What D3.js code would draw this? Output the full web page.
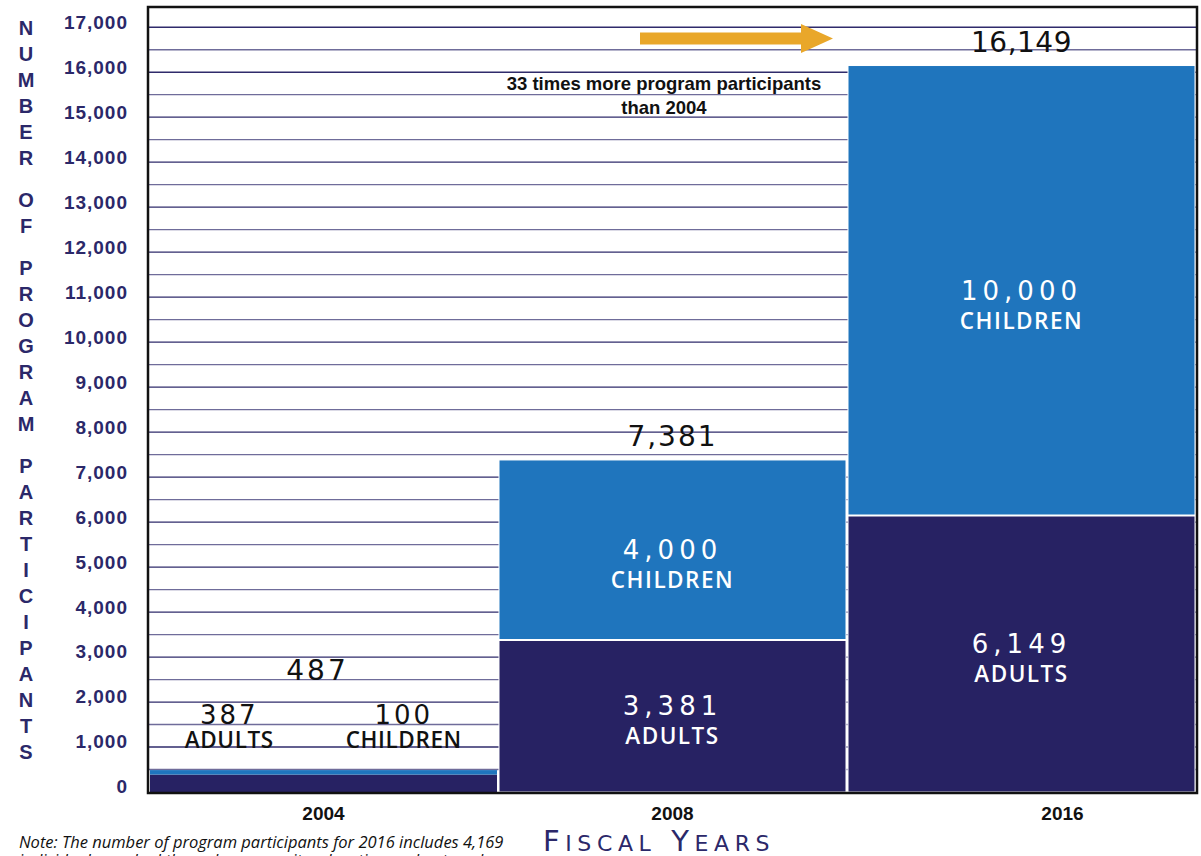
<!DOCTYPE html>
<html><head><meta charset="utf-8">
<script src="https://cdn.jsdelivr.net/npm/d3@7"></script>
<style>body{margin:0;background:#fff}svg{display:block}</style>
</head><body>
<svg id="c" width="1201" height="856"></svg>
<script>
const years = ["2004", "2008", "2016"];
const adults = [387, 3381, 6149];
const children = [100, 4000, 10000];
const totals = [487, 7381, 16149];
const yTickValues = d3.range(0, 17001, 1000);
const gridValues = d3.range(500, 17001, 500);
const yTitle = "NUMBER OF PROGRAM PARTICIPANTS";
const xTitleWords = ["Fiscal", "Years"];
const noteLines = ["Note: The number of program participants for 2016 includes 4,169",
                   "individuals reached through community education and outreach."];
const calloutLines = ["33 times more program participants", "than 2004"];

const NAVY = "#272263", BLUE = "#1f75bd", TXT = "#2b2869", ORANGE = "#e9a72a";
const NUMFONT = "'DejaVu Sans', sans-serif";
const WORDFONT = "'Open Sans', sans-serif";

const svg = d3.select("#c");
const L = 148, T = 7, R = 1197, B = 793;
const x = d3.scaleBand().domain(years).range([L + 1, R - 1]).paddingInner(0);
const y = d3.scaleLinear().domain([0, 17450]).range([792, T]);

const rows = years.map((yr, i) => ({year: yr, adults: adults[i], children: children[i], total: totals[i]}));

// gridlines
svg.append("g").selectAll("line").data(gridValues).join("line")
  .attr("x1", L).attr("x2", R).attr("y1", d => y(d)).attr("y2", d => y(d))
  .attr("stroke", (d) => d % 1000 === 0 ? "#2f2b6b" : "#6f6c9a").attr("stroke-width", 1.3);

// stacked bars
const stack = d3.stack().keys(["adults", "children"])(rows);
const colors = {adults: NAVY, children: BLUE};
svg.append("g").selectAll("g").data(stack).join("g")
  .attr("fill", d => colors[d.key])
  .selectAll("rect").data(d => d).join("rect")
  .attr("x", d => x(d.data.year) + 1).attr("width", x.bandwidth() - 2)
  .attr("y", d => y(d[1])).attr("height", d => y(d[0]) - y(d[1]));
// white separators between segments (only where the upper segment is tall)
svg.append("g").selectAll("line").data(rows.filter(r => y(r.adults) - y(r.total) > 20)).join("line")
  .attr("x1", d => x(d.year)).attr("x2", d => x(d.year) + x.bandwidth())
  .attr("y1", d => y(d.adults)).attr("y2", d => y(d.adults))
  .attr("stroke", "#fff").attr("stroke-width", 2);
// white outline around the tall bars
svg.append("g").selectAll("rect").data(rows.filter(r => r.year !== years[0])).join("rect")
  .attr("x", d => x(d.year) + 1).attr("width", x.bandwidth() - 2)
  .attr("y", d => y(d.total)).attr("height", d => y(0) - y(d.total))
  .attr("fill", "none").attr("stroke", "#fff").attr("stroke-width", 1);

// frame
svg.append("rect").attr("x", L).attr("y", T).attr("width", R - L).attr("height", B - T)
  .attr("fill", "none").attr("stroke", "#111").attr("stroke-width", 2.5);

// y axis labels
const yAxis = d3.axisLeft(y).tickValues(yTickValues).tickSize(0).tickPadding(20)
  .tickFormat(d3.format(","));
const ya = svg.append("g").attr("transform", `translate(${L},0)`).call(yAxis);
ya.select(".domain").remove();
ya.selectAll("text").attr("fill", TXT).attr("font-family", "'Liberation Sans', Arial, sans-serif")
  .attr("font-weight", "bold").attr("font-size", 19).attr("letter-spacing", 1).attr("dy", "0.05em");

// x axis labels
const xAxis = d3.axisBottom(x).tickSize(0).tickPadding(14);
const xa = svg.append("g").attr("transform", `translate(0,${B})`).call(xAxis);
xa.select(".domain").remove();
xa.selectAll("text").attr("fill", "#111").attr("font-family", "'Liberation Sans', Arial, sans-serif")
  .attr("font-weight", "bold").attr("font-size", 19)
  .attr("dx", (d, i) => i === years.length - 1 ? 41 : 0);

// vertical y title
let cy = 28;
const yt = svg.append("g").attr("fill", TXT).attr("font-family", "'Liberation Sans', Arial, sans-serif")
  .attr("font-weight", "bold").attr("font-size", 20).attr("text-anchor", "middle");
yTitle.split("").forEach(ch => {
  if (ch === " ") { cy += 16; return; }
  yt.append("text").attr("x", 26).attr("y", cy).attr("dy", "0.36em").text(ch);
  cy += 26;
});

// in-bar labels
const lab = svg.append("g").attr("text-anchor", "middle");
function pair(cx, cyNum, num, word, color, ls, gap, wordLs) {
  lab.append("text").attr("x", cx).attr("y", cyNum).attr("dy", "0.36em")
    .attr("font-family", NUMFONT).attr("font-size", 26).attr("letter-spacing", ls)
    .attr("fill", color).text(num);
  lab.append("text").attr("x", cx).attr("y", cyNum + gap).attr("dy", "0.36em")
    .attr("font-family", WORDFONT).attr("font-weight", 600).attr("font-size", 22.5)
    .attr("letter-spacing", wordLs)
    .attr("fill", color).text(word);
}
const fmt = d3.format(",");
rows.forEach((r, i) => {
  const cx = x(r.year) + x.bandwidth() / 2;
  if (i === 0) {
    lab.append("text").attr("x", cx - 6).attr("y", y(2720)).attr("dy", "0.36em")
      .attr("font-family", NUMFONT).attr("font-size", 28).attr("letter-spacing", 3)
      .attr("fill", "#111").text(fmt(r.total));
    pair(x(r.year) + x.bandwidth() * 0.23, y(1720), fmt(r.adults), "ADULTS", "#111", 3, 25, 0.6);
    pair(x(r.year) + x.bandwidth() * 0.73, y(1720), fmt(r.children), "CHILDREN", "#111", 3, 25, 0.6);
  } else {
    lab.append("text").attr("x", cx).attr("y", y(r.total) - 24).attr("dy", "0.36em")
      .attr("font-family", NUMFONT).attr("font-size", 28).attr("letter-spacing", i === 1 ? 2 : 0.5)
      .attr("fill", "#111").text(fmt(r.total));
    pair(cx, y((r.adults + r.total) / 2), fmt(r.children), "CHILDREN", "#fff", 5, 30, 1.5);
    pair(cx, y(r.adults / 2) - 10, fmt(r.adults), "ADULTS", "#fff", 5, 30, 1.5);
  }
});

// callout
const co = svg.append("g").attr("text-anchor", "middle").attr("fill", "#111")
  .attr("font-family", "'Liberation Sans', Arial, sans-serif").attr("font-weight", "bold").attr("font-size", 18.5);
calloutLines.forEach((t, i) => co.append("text").attr("x", 664).attr("y", 83 + i * 24).attr("dy", "0.36em").text(t));

// arrow
svg.append("path")
  .attr("d", "M640,32.5 L801,32.5 L801,24 L833,38.5 L801,53 L801,44.5 L640,44.5 Z")
  .attr("fill", ORANGE);

// x title (small caps drawn as big + small capitals)
const xt = svg.append("text").attr("x", 543).attr("y", 851)
  .attr("font-family", NUMFONT).attr("letter-spacing", 5.6).attr("fill", TXT);
xTitleWords.forEach((w, i) => {
  xt.append("tspan").attr("font-size", 29).text((i ? " " : "") + w[0].toUpperCase());
  xt.append("tspan").attr("font-size", 22).text(w.slice(1).toUpperCase());
});

// note
const nt = svg.append("g").attr("font-family", WORDFONT).attr("font-style", "italic")
  .attr("font-size", 16.5).attr("fill", "#111");
noteLines.forEach((t, i) => nt.append("text").attr("x", 19).attr("y", 848 + i * 18).text(t));
</script>
</body></html>
